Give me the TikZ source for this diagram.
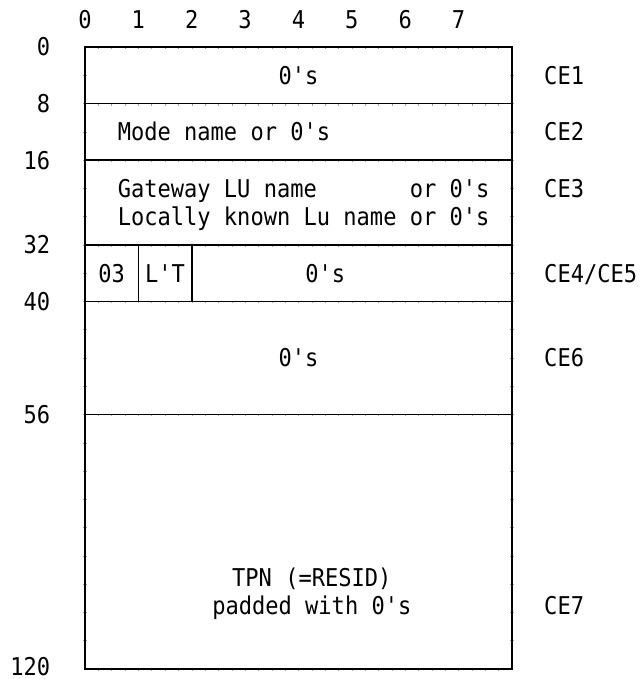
\documentclass[tikz,border=0pt]{standalone}
\usepackage{fontspec}
\setmonofont[FakeStretch=0.9]{DejaVu Sans Mono}
\definecolor{recordTick}{HTML}{A0A0A0}

\begin{document}
\begin{tikzpicture}[x=53.375pt, y=-28.27pt, line width=1.5pt,
    font=\ttfamily\fontsize{24.5}{28.27}\selectfont,
    every node/.style={inner sep=0pt, text height=18pt, text depth=0pt}]
    \useasboundingbox (-85pt,47pt) rectangle (554pt,-632pt);
    % faint grid ticks
    \foreach \r in {0,2,4,7,9,13,22}
        \foreach \c in {1,...,31}
            \draw[recordTick, line width=0.5pt] (\c/4,\r) -- ++(0,0.07);
    \foreach \r in {1,...,21} {
        \draw[recordTick, line width=0.5pt] (-0.04,\r) -- (0.04,\r);
        \draw[recordTick, line width=0.5pt] (7.96,\r) -- (8.04,\r);
    }
    % record outline and fields
    \draw (0,0) rectangle (8,22);
    \foreach \r in {2,4,7,9,13}
        \draw (0,\r) -- (8,\r);
    \draw (1,7) -- (1,9);
    \draw (2,7) -- (2,9);
    % byte numbers and offsets
    \foreach \c in {0,...,7}
        \node (byte\c) at (\c,-0.955) {\c};
    \foreach \off/\r in {0/0, 8/2, 16/4, 32/7, 40/9, 56/13, 120/21.9}
        \node[anchor=east] (off\off) at (-0.64,\r) {\off};
    % field contents (multi-line nodes sit on their last line)
    \node (zeros1) at (4,1) {0's};
    \node[anchor=west] (modename) at (0.6,3) {Mode name or 0's};
    \node[anchor=west, align=left] (luname) at (0.6,6)
        {Gateway LU name\ \ \ \ \ \ \ or 0's\\Locally known Lu name or 0's};
    \node (fmt) at (0.5,8) {03};
    \node (lt) at (1.5,8) {L'T};
    \node (zeros4) at (4.5,8) {0's};
    \node (zeros6) at (4,11) {0's};
    \node[align=center] (tpn) at (4.25,19.75) {TPN (=RESID)\\padded with 0's};
    % control element names
    \foreach \ce/\r [count=\i] in {CE1/1, CE2/3, CE3/5, {CE4/CE5}/8, CE6/11, CE7/19.75}
        \node[anchor=west] (ce\i) at (8.59,\r) {\ce};
\end{tikzpicture}
\end{document}
